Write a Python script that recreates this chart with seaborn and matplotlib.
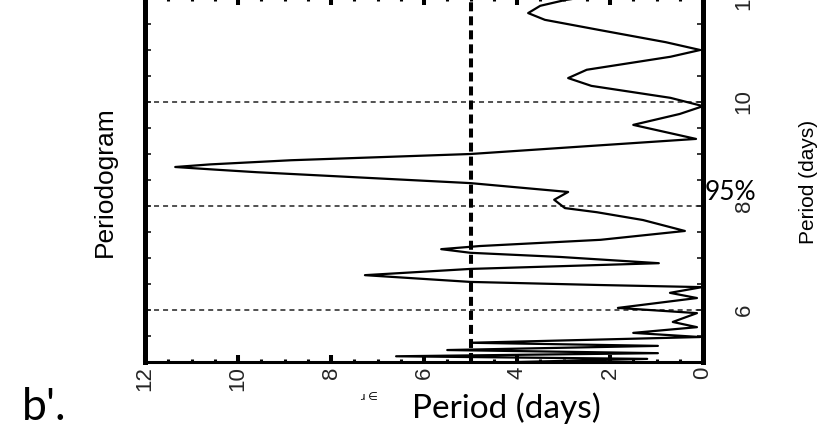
import matplotlib
matplotlib.use("Agg")
import matplotlib.pyplot as plt
from matplotlib import font_manager
from matplotlib.ticker import MultipleLocator, FixedLocator
import seaborn as sns
import pandas as pd

# Periodogram traced along the period axis (days), from long to short periods
period_days = [12.05, 11.96, 11.85, 11.71, 11.58, 11.38, 11.15, 11.00, 10.87, 10.62,
               10.46, 10.31, 10.08, 9.92, 9.77, 9.56, 9.40, 9.29, 9.15, 9.00,
               8.88, 8.80, 8.75, 8.70, 8.65, 8.44, 8.27, 8.12, 7.96, 7.88,
               7.73, 7.52, 7.35, 7.23, 7.17, 7.10, 7.02, 6.90, 6.79, 6.67,
               6.54, 6.48, 6.44, 6.33, 6.23, 6.04, 5.94, 5.77, 5.67, 5.56,
               5.48, 5.37, 5.31, 5.23, 5.17, 5.11, 5.06, 5.00]
power = [2.3, 2.97, 3.5, 3.76, 3.4, 2.2, 0.8, 0.06, 0.7, 2.5,
         2.9, 2.4, 0.7, 0.0, 0.5, 1.5, 0.7, 0.15, 2.5, 5.0,
         8.86, 10.6, 11.35, 10.5, 9.6, 5.0, 2.9, 3.2, 2.97, 2.28,
         1.29, 0.39, 2.2, 4.8, 5.63, 5.0, 3.07, 0.95, 5.0, 7.27,
         5.0, 2.2, 0.02, 0.71, 0.13, 1.83, 0.13, 0.65, 0.13, 1.5,
         0.06, 5.0, 0.97, 5.5, 0.97, 6.6, 1.2, 4.0]

power_ticks = [0, 2, 4, 6, 8, 10, 12]
period_ticks = [6, 8, 10, 12]
period_grid = [6, 8, 10, 12]
sig_level = 5.0
sig_label = "95%"

sns.set_theme(style="white")
plt.rcParams["lines.scale_dashes"] = False

installed = {f.name for f in font_manager.fontManager.ttflist}
narrow = "Liberation Sans Narrow" if "Liberation Sans Narrow" in installed else "Liberation Sans"
plt.rcParams["font.family"] = [narrow, "DejaVu Sans"]

W, H = 834, 429
fig = plt.figure(figsize=(W / 100, H / 100), dpi=100)
ax = fig.add_axes([145 / W, (H - 362) / H, 558 / W, 364 / H])

df = pd.DataFrame({"power": power, "period": period_days})
sns.lineplot(data=df, x="power", y="period", sort=False, estimator=None,
             color="black", lw=1.6, ax=ax, zorder=3)

for p in period_grid:
    ax.axhline(p, color="#222222", lw=1.1, ls=(0, (3.6, 2.9)), zorder=2)
ax.axvline(sig_level, color="black", lw=2.9, ls=(0, (6.5, 3.6)), zorder=2)

ax.set_xlim(12, 0)
ax.set_ylim(5, 12)
ax.set_xlabel("")
ax.set_ylabel("")

ax.xaxis.set_major_locator(FixedLocator(power_ticks))
ax.xaxis.set_minor_locator(MultipleLocator(0.5))
ax.yaxis.set_major_locator(FixedLocator(period_ticks))
ax.yaxis.set_minor_locator(MultipleLocator(0.5))

ax.tick_params(axis="x", which="both", direction="in", top=True, bottom=True,
               color="black", labelsize=16, pad=3, labelrotation=90)
ax.tick_params(axis="x", which="major", length=5, width=2.9)
ax.tick_params(axis="x", which="minor", length=2.2, width=2.2)
ax.tick_params(axis="y", which="both", direction="in", left=True, right=True,
               labelleft=False, labelright=True, color="black",
               length=4.3, width=1.1, labelsize=16, pad=22, labelrotation=90)
for lab in ax.get_yticklabels():
    lab.set_va("center")

for side, lw in (("left", 3.6), ("right", 3.6), ("bottom", 2.2), ("top", 2.2)):
    ax.spines[side].set_visible(True)
    ax.spines[side].set_linewidth(lw)
    ax.spines[side].set_color("black")
    ax.spines[side].set_zorder(5)


def px(x, y):
    return x / W, 1 - y / H


fig.text(*px(105, 182), "Periodogram", rotation=90, ha="center", va="center",
         fontsize=19, color="black")
fig.text(*px(808, 182), "Period (days)", rotation=90, ha="center", va="center",
         fontsize=15, color="black")
fig.text(*px(705, 193), sig_label, ha="left", va="center", fontsize=19,
         family=["Lato", "DejaVu Sans"], color="black")
fig.text(*px(506, 418), "Period (days)", ha="center", va="baseline", fontsize=24,
         family=["Lato", "DejaVu Sans"], color="black")
fig.text(*px(22, 420), "b'.", ha="left", va="baseline", fontsize=32,
         family=["Lato", "DejaVu Sans"], color="black")
fig.text(*px(369, 397), "ɹ ∈", ha="center", va="center", fontsize=8,
         family=["DejaVu Sans"], color="black")

fig.savefig("out.png", dpi=100)
